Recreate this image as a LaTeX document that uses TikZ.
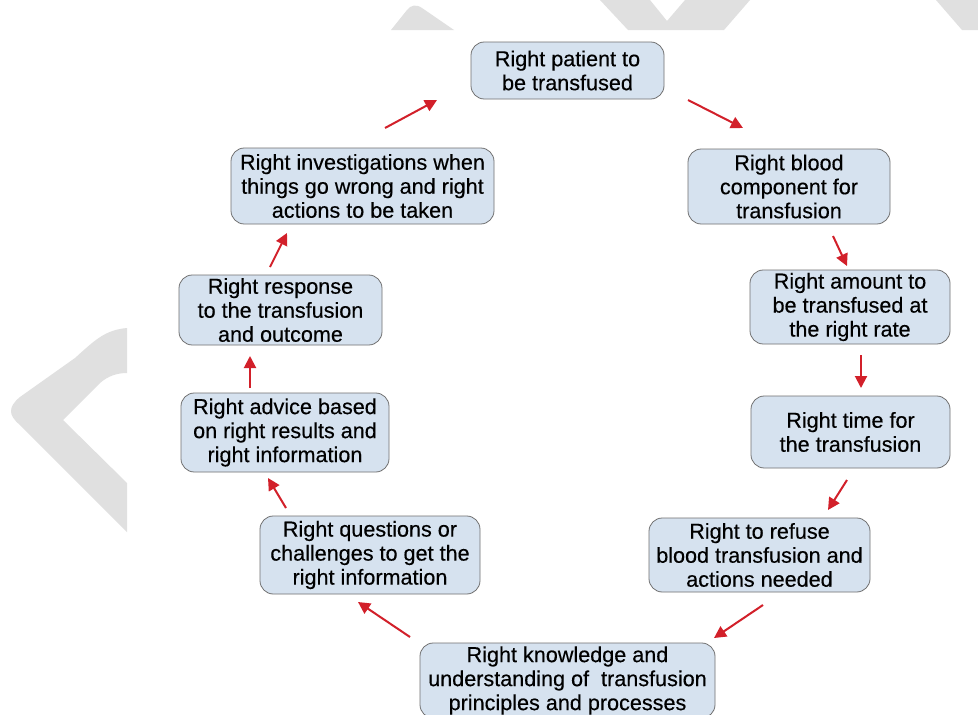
\documentclass[tikz,border=0pt]{standalone}
\usepackage{fontspec}
\setmainfont{Liberation Sans}
\newfontfamily\boxfont{Liberation Sans}[FakeBold=0.35]
\usepackage{tikz}
\usetikzlibrary{arrows.meta}

\definecolor{boxfill}{HTML}{D6E2EF}
\definecolor{boxline}{HTML}{707070}
\definecolor{arrowred}{HTML}{D2202A}
\definecolor{wmark}{HTML}{E0E0E0}

\tikzset{
  stagebox/.style={draw=boxline,line width=0.6pt,fill=boxfill,rounded corners=10pt,
    align=center,inner sep=2pt,font=\boxfont\fontsize{16.2}{18}\selectfont},
  flow/.style={draw=arrowred,line width=1.5pt,-{Triangle[length=9pt,width=9pt]}}
}

\begin{document}
\begin{tikzpicture}[x=0.75pt,y=-0.75pt]
		\path[use as bounding box,clip] (0,0) rectangle (978,714);
		\fill[white] (0,0) rectangle (978,714);
		% watermark
		\fill[wmark] (127,328) .. controls (105,330) and (95,340) .. (75,358) -- (20,397)
			.. controls (8,407) and (8,415) .. (20,425) -- (127,532) -- (127,483) -- (63,420)
			-- (100,383) .. controls (108,376) and (117,373) .. (127,373) -- cycle;
		\fill[wmark] (391,30) -- (407,10) .. controls (411,5) and (416,4) .. (422,8) -- (454,30) -- cycle;
		\fill[wmark] (600,0) -- (628,30) -- (724,30) -- (750,0) -- (685,0) -- (667,21) -- (650,0) -- cycle;
		\fill[wmark] (936,0) -- (962,30) -- (978,30) -- (978,0) -- cycle;
		%
		\node[stagebox,minimum width=144.75pt,minimum height=42.75pt] (pat) at (567.5,70.5) {Right patient to\\be transfused};
		\node[stagebox,minimum width=151.5pt,minimum height=56.25pt] (blood) at (789,186.5) {Right blood\\component for\\transfusion};
		\node[stagebox,minimum width=150pt,minimum height=55.5pt] (amount) at (850,307) {Right amount to\\be transfused at\\the right rate};
		\node[stagebox,minimum width=149.25pt,minimum height=54pt] (time) at (850.5,432) {Right time for\\the transfusion};
		\node[stagebox,minimum width=165.75pt,minimum height=55.5pt] (refuse) at (759.5,555) {Right to refuse\\blood transfusion and\\actions needed};
		\node[stagebox,minimum width=221.25pt,minimum height=56.25pt] (know) at (567.5,680.5) {Right knowledge and\\understanding of \ transfusion\\principles and processes};
		\node[stagebox,minimum width=165pt,minimum height=58.5pt] (quest) at (370,555) {Right questions or\\challenges to get the\\right information};
		\node[stagebox,minimum width=156pt,minimum height=59.25pt] (advice) at (285,432.5) {Right advice based\\on right results and\\right information};
		\node[stagebox,minimum width=152.25pt,minimum height=52.5pt] (resp) at (280.5,310) {Right response\\to the transfusion\\and outcome};
		\node[stagebox,minimum width=197.25pt,minimum height=57pt] (invest) at (362.5,186) {Right investigations when\\things go wrong and right\\actions to be taken};
		%
		\path[every edge/.style={flow}]
		% right side, going down
		([shift={(120.5,29.5)}]pat.center) edge ([shift={(-46,-58.5)}]blood.center)
		([shift={(44,49.5)}]blood.center) edge ([shift={(-3,-41)}]amount.center)
		([shift={(11,48)}]amount.center) edge ([shift={(10.5,-44)}]time.center)
		([shift={(-3.5,48)}]time.center) edge ([shift={(68.5,-45)}]refuse.center)
		([shift={(3.5,50)}]refuse.center) edge ([shift={(146.5,-42.5)}]know.center)
		% left side, going up
		([shift={(-157.5,-43.5)}]know.center) edge ([shift={(-12,47)}]quest.center)
		([shift={(-84,-47)}]quest.center) edge ([shift={(-17,45.5)}]advice.center)
		([shift={(-35,-44.5)}]advice.center) edge ([shift={(-30.5,46)}]resp.center)
		([shift={(-10.5,-43)}]resp.center) edge ([shift={(-75.5,47)}]invest.center)
		([shift={(22.5,-58)}]invest.center) edge ([shift={(-130.5,29.5)}]pat.center);
\end{tikzpicture}
\end{document}
